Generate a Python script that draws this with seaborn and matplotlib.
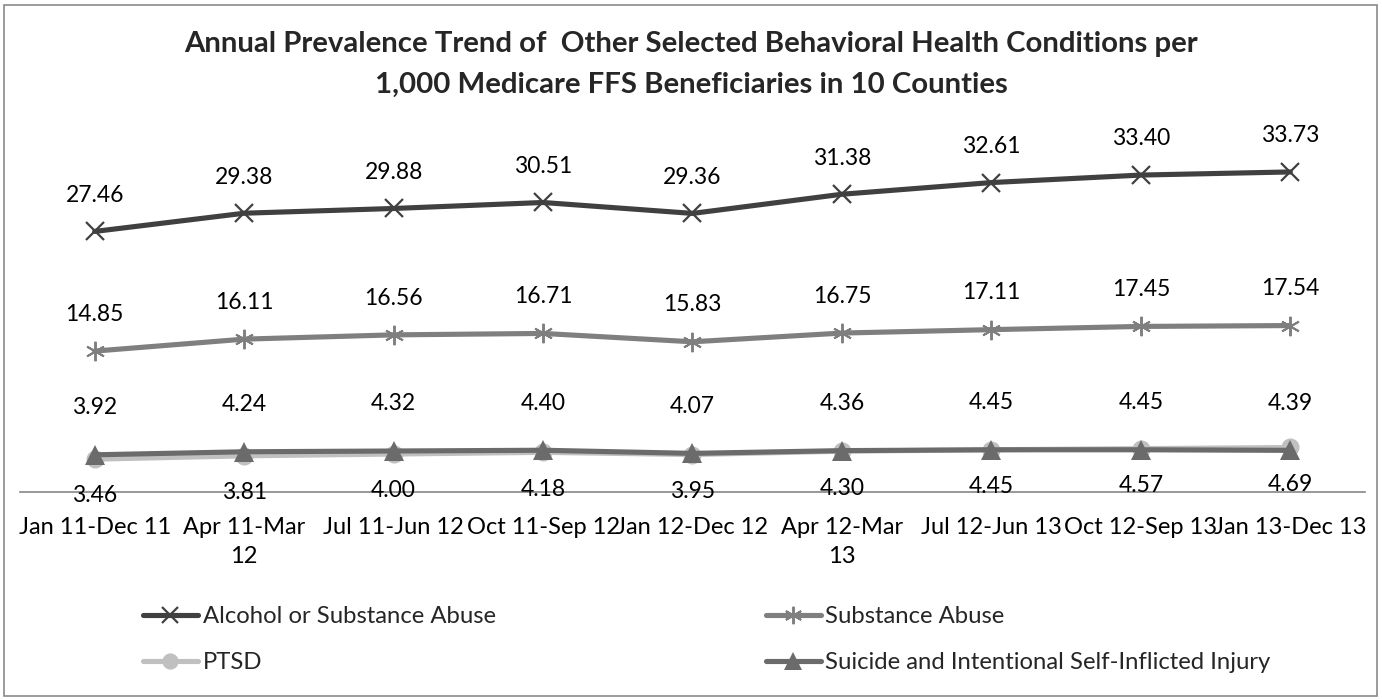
import matplotlib
matplotlib.use("Agg")
import matplotlib.pyplot as plt
from matplotlib.patches import Rectangle
import seaborn as sns
import pandas as pd
import numpy as np

# ---- data ----
periods = ["Jan 11-Dec 11", "Apr 11-Mar\n12", "Jul 11-Jun 12", "Oct 11-Sep 12",
           "Jan 12-Dec 12", "Apr 12-Mar\n13", "Jul 12-Jun 13", "Oct 12-Sep 13",
           "Jan 13-Dec 13"]
alcohol_substance = [27.46, 29.38, 29.88, 30.51, 29.36, 31.38, 32.61, 33.40, 33.73]
substance_abuse = [14.85, 16.11, 16.56, 16.71, 15.83, 16.75, 17.11, 17.45, 17.54]
ptsd = [3.46, 3.81, 4.00, 4.18, 3.95, 4.30, 4.45, 4.57, 4.69]
suicide_injury = [3.92, 4.24, 4.32, 4.40, 4.07, 4.36, 4.45, 4.45, 4.39]

series_names = ["Alcohol or Substance Abuse", "Substance Abuse", "PTSD",
                "Suicide and Intentional Self-Inflicted Injury"]
series_values = [alcohol_substance, substance_abuse, ptsd, suicide_injury]

sns.set_theme(style="white")
plt.rcParams["font.family"] = ["Lato", "DejaVu Sans"]

W, H = 1382, 700

# style per series: colour, marker, marker size, label offset (points)
styles = {
    "Alcohol or Substance Abuse": dict(color="#404040", marker="x", ms=13, mew=1.6, dy=26, z=4),
    "Substance Abuse": dict(color="#7f7f7f", marker=(6, 2, 0), ms=14, mew=1.4, dy=26.5, z=3),
    "PTSD": dict(color="#c0c0c0", marker="o", ms=13, mew=0, dy=-26.5, z=2),
    "Suicide and Intentional Self-Inflicted Injury": dict(color="#6b6b6b", marker="^", ms=14, mew=0, dy=34, z=5),
}

x = np.arange(len(periods))
df = pd.concat(
    [pd.DataFrame({"x": x, "value": vals, "series": name})
     for name, vals in zip(series_names, series_values)],
    ignore_index=True,
)

fig = plt.figure(figsize=(W / 100, H / 100), dpi=100, facecolor="white")
fig.patches.append(Rectangle((4 / W, 4 / H), (W - 9) / W, (H - 9) / H,
                             transform=fig.transFigure, fill=False,
                             edgecolor="#8a8a8a", linewidth=1.2))

ax = fig.add_axes([20 / W, (H - 492) / H, 1345 / W, (492 - 130) / H])

for name in series_names:
    st = styles[name]
    sub = df[df["series"] == name]
    sns.lineplot(data=sub, x="x", y="value", ax=ax, color=st["color"],
                 linewidth=3.7, marker=st["marker"], markersize=st["ms"],
                 markeredgewidth=st["mew"], markeredgecolor=st["color"],
                 markerfacecolor=st["color"], label=name, zorder=st["z"])
    for xi, v in zip(sub["x"], sub["value"]):
        ax.annotate(f"{v:.2f}", (xi, v), xytext=(0, st["dy"]), textcoords="offset points",
                    ha="center", va="center", fontsize=16.5, color="#000000", zorder=6)

ax.set_xlim(-0.5, len(periods) - 0.5)
ax.set_ylim(0, 38.15)
ax.set_xticks(x)
ax.set_xticklabels(periods, fontsize=17, color="#000000", linespacing=1.45)
ax.tick_params(axis="x", length=0, pad=18)
ax.set_yticks([])
ax.set_xlabel("")
ax.set_ylabel("")
for side in ["top", "left", "right"]:
    ax.spines[side].set_visible(False)
ax.spines["bottom"].set_color("#868686")
ax.spines["bottom"].set_linewidth(1.2)
ax.patch.set_alpha(0)

fig.text(0.5, 1 - 44 / H,
         "Annual Prevalence Trend of  Other Selected Behavioral Health Conditions per",
         ha="center", va="center", fontsize=21.2, fontweight="bold")
fig.text(0.5, 1 - 85 / H,
         "1,000 Medicare FFS Beneficiaries in 10 Counties",
         ha="center", va="center", fontsize=21.2, fontweight="bold")

handles, labels = ax.get_legend_handles_labels()
ax.get_legend().remove()
# two columns, filled row-wise
order = [0, 2, 1, 3]
fig.legend([handles[i] for i in order], [labels[i] for i in order],
           loc="upper left", bbox_to_anchor=(143 / W, 1 - 606 / H),
           ncol=2, frameon=False, fontsize=17.2, handlelength=2.3,
           handletextpad=0.2, columnspacing=11.3, labelspacing=1.05,
           borderaxespad=0, borderpad=0, markerscale=0.9)

fig.savefig("out.png", dpi=100, facecolor="white")
